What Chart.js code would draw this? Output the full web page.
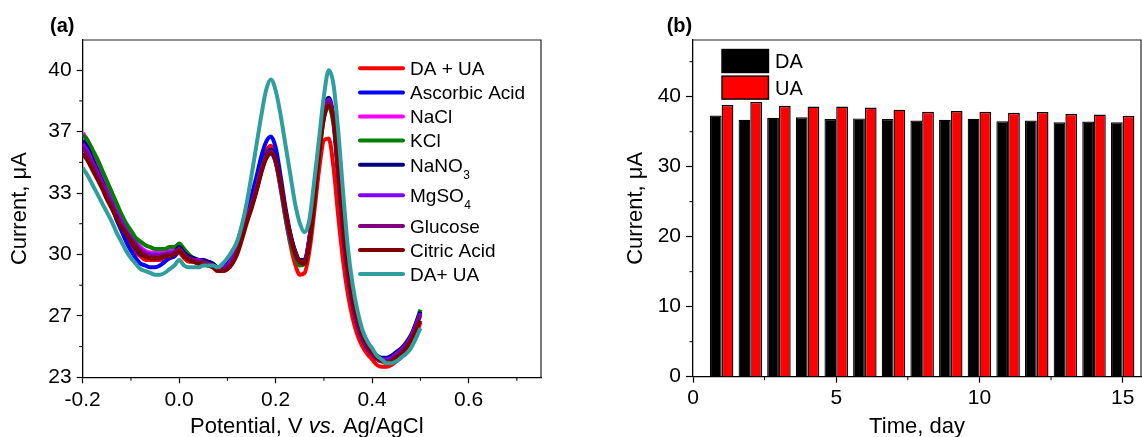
<!DOCTYPE html>
<html>
<head>
<meta charset="utf-8">
<script src="https://cdn.jsdelivr.net/npm/chart.js@4.4.0/dist/chart.umd.min.js"></script>
<style>
html, body { margin: 0; padding: 0; background: #fff; overflow: hidden; }
canvas { position: absolute; top: 0; }
#chartA { left: 0; }
#chartB { left: 575px; }
</style>
</head>
<body>
<canvas id="chartA" width="575" height="437"></canvas>
<canvas id="chartB" width="567" height="437"></canvas>
<script>
// ---- panel (a): DPV curves, current (µA) vs potential (V)
const potentials = [
  -0.20, -0.19, -0.18, -0.17, -0.16, -0.15, -0.14, -0.13, -0.12, -0.11,
  -0.10, -0.09, -0.08, -0.07, -0.06, -0.05, -0.04, -0.03, -0.02, -0.01,
  0.00, 0.01, 0.02, 0.03, 0.04, 0.05, 0.06, 0.07, 0.08, 0.09,
  0.10, 0.11, 0.12, 0.13, 0.14, 0.15, 0.16, 0.17, 0.18, 0.19,
  0.20, 0.21, 0.22, 0.23, 0.24, 0.25, 0.26, 0.27, 0.28, 0.29,
  0.30, 0.31, 0.32, 0.33, 0.34, 0.35, 0.36, 0.37, 0.38, 0.39,
  0.40, 0.41, 0.42, 0.43, 0.44, 0.45, 0.46, 0.47, 0.48, 0.49,
  0.50
];
const daUa = [
  36.1, 35.6, 35.0, 34.4, 33.8, 33.2, 32.6, 32.0, 31.4, 30.9,
  30.5, 30.1, 29.9, 29.7, 29.7, 29.7, 29.7, 29.8, 29.8, 29.9,
  30.1, 29.8, 29.6, 29.6, 29.5, 29.5, 29.4, 29.3, 29.1, 29.1,
  29.2, 29.5, 30.1, 31.0, 31.9, 32.8, 33.8, 34.8, 35.6, 35.9,
  35.3, 33.8, 32.1, 30.6, 29.5, 28.9, 29.0, 30.2, 32.3, 34.6,
  36.2, 36.3, 34.7, 32.0, 29.6, 27.8, 26.5, 25.6, 25.0, 24.6,
  24.3, 24.0, 23.9, 23.9, 24.0, 24.2, 24.4, 24.7, 25.1, 25.6,
  26.3
];
const ascorbic = [
  36.2, 35.8, 35.2, 34.6, 34.0, 33.3, 32.6, 31.9, 31.3, 30.7,
  30.2, 29.8, 29.5, 29.4, 29.3, 29.3, 29.4, 29.6, 29.8, 29.9,
  30.2, 29.9, 29.8, 29.7, 29.7, 29.6, 29.6, 29.5, 29.3, 29.3,
  29.5, 29.9, 30.6, 31.5, 32.4, 33.2, 34.2, 35.3, 36.1, 36.4,
  35.8, 34.3, 32.6, 31.2, 30.2, 29.7, 29.7, 30.9, 33.2, 35.8,
  37.8, 38.4, 37.2, 34.2, 31.1, 28.8, 27.2, 26.1, 25.4, 24.9,
  24.6, 24.4, 24.3, 24.3, 24.4, 24.6, 24.8, 25.1, 25.5, 26.1,
  26.8
];
const naCl = [
  36.6, 36.2, 35.6, 35.0, 34.4, 33.8, 33.2, 32.6, 32.0, 31.5,
  31.0, 30.7, 30.4, 30.2, 30.1, 30.1, 30.1, 30.1, 30.2, 30.2,
  30.4, 30.1, 29.9, 29.8, 29.7, 29.6, 29.5, 29.4, 29.3, 29.3,
  29.4, 29.7, 30.3, 31.1, 31.9, 32.6, 33.5, 34.5, 35.3, 35.6,
  35.1, 33.8, 32.3, 31.0, 30.1, 29.7, 29.7, 30.9, 33.0, 35.6,
  37.6, 38.3, 37.3, 34.4, 31.3, 29.0, 27.4, 26.3, 25.6, 25.1,
  24.7, 24.4, 24.3, 24.2, 24.3, 24.5, 24.7, 25.0, 25.4, 26.1,
  26.9
];
const kCl = [
  36.5, 36.2, 35.7, 35.2, 34.6, 34.0, 33.4, 32.8, 32.2, 31.7,
  31.3, 30.9, 30.7, 30.5, 30.4, 30.3, 30.3, 30.3, 30.4, 30.4,
  30.6, 30.3, 30.0, 29.8, 29.7, 29.6, 29.5, 29.4, 29.3, 29.3,
  29.4, 29.7, 30.3, 31.1, 32.0, 32.7, 33.5, 34.5, 35.2, 35.5,
  35.0, 33.6, 32.0, 30.7, 29.9, 29.4, 29.5, 30.6, 32.8, 35.4,
  37.4, 38.0, 37.0, 34.2, 31.2, 28.9, 27.3, 26.2, 25.5, 25.0,
  24.6, 24.4, 24.3, 24.3, 24.4, 24.6, 24.8, 25.1, 25.5, 26.2,
  27.0
];
const naNO3 = [
  36.2, 35.8, 35.2, 34.6, 34.0, 33.4, 32.8, 32.2, 31.6, 31.1,
  30.7, 30.3, 30.0, 29.9, 29.8, 29.8, 29.8, 29.9, 30.0, 30.1,
  30.4, 30.1, 29.9, 29.8, 29.7, 29.7, 29.6, 29.5, 29.3, 29.3,
  29.5, 29.9, 30.5, 31.3, 32.1, 32.8, 33.7, 34.7, 35.4, 35.7,
  35.2, 33.9, 32.4, 31.1, 30.2, 29.7, 29.7, 30.9, 33.2, 35.9,
  37.9, 38.5, 37.4, 34.4, 31.3, 29.0, 27.4, 26.3, 25.6, 25.1,
  24.7, 24.5, 24.4, 24.4, 24.5, 24.7, 24.9, 25.2, 25.6, 26.2,
  26.9
];
const mgSO4 = [
  36.0, 35.6, 35.0, 34.5, 33.9, 33.4, 32.8, 32.3, 31.8, 31.3,
  30.9, 30.6, 30.3, 30.1, 30.0, 30.0, 30.0, 30.0, 30.1, 30.1,
  30.3, 30.0, 29.8, 29.7, 29.7, 29.6, 29.5, 29.4, 29.3, 29.3,
  29.4, 29.8, 30.4, 31.2, 32.0, 32.7, 33.6, 34.6, 35.3, 35.5,
  35.0, 33.7, 32.2, 30.9, 30.1, 29.6, 29.6, 30.8, 33.1, 35.7,
  37.7, 38.4, 37.3, 34.3, 31.2, 28.9, 27.3, 26.2, 25.5, 25.0,
  24.6, 24.4, 24.3, 24.3, 24.4, 24.6, 24.8, 25.1, 25.5, 26.1,
  26.8
];
const glucose = [
  35.8, 35.4, 34.9, 34.3, 33.8, 33.2, 32.7, 32.1, 31.6, 31.2,
  30.8, 30.5, 30.2, 30.0, 29.9, 29.9, 29.9, 30.0, 30.0, 30.1,
  30.3, 30.0, 29.8, 29.7, 29.6, 29.6, 29.5, 29.4, 29.2, 29.2,
  29.3, 29.6, 30.2, 31.0, 31.9, 32.6, 33.5, 34.5, 35.3, 35.6,
  35.1, 33.8, 32.3, 31.0, 30.1, 29.6, 29.6, 30.8, 33.0, 35.6,
  37.6, 38.3, 37.3, 34.3, 31.2, 28.9, 27.3, 26.2, 25.5, 25.0,
  24.6, 24.3, 24.2, 24.2, 24.3, 24.5, 24.7, 25.0, 25.4, 26.0,
  26.7
];
const citric = [
  35.5, 35.1, 34.6, 34.1, 33.6, 33.0, 32.5, 32.0, 31.5, 31.1,
  30.7, 30.4, 30.1, 29.9, 29.8, 29.8, 29.8, 29.9, 29.9, 30.0,
  30.2, 29.9, 29.7, 29.6, 29.5, 29.5, 29.4, 29.3, 29.1, 29.1,
  29.2, 29.5, 30.0, 30.8, 31.7, 32.5, 33.4, 34.4, 35.2, 35.5,
  35.1, 33.9, 32.4, 31.1, 30.1, 29.6, 29.5, 30.6, 32.8, 35.4,
  37.4, 38.1, 37.3, 34.5, 31.4, 29.1, 27.5, 26.4, 25.6, 25.1,
  24.7, 24.4, 24.2, 24.1, 24.2, 24.4, 24.6, 24.9, 25.3, 25.8,
  26.4
];
const daUa2 = [
  34.7, 34.3, 33.8, 33.3, 32.8, 32.3, 31.8, 31.2, 30.7, 30.2,
  29.8, 29.5, 29.2, 29.1, 29.0, 28.9, 28.9, 29.0, 29.2, 29.4,
  29.7, 29.4, 29.3, 29.3, 29.3, 29.4, 29.4, 29.4, 29.3, 29.5,
  29.8, 30.2, 30.7, 31.6, 32.8, 34.3, 35.9, 37.5, 38.9, 39.5,
  38.9, 37.6, 36.0, 34.4, 32.8, 31.7, 31.2, 31.9, 34.0, 36.3,
  38.6, 40.0, 39.2, 36.6, 33.3, 30.3, 28.3, 26.9, 25.9, 25.3,
  24.9, 24.5, 24.3, 24.1, 24.1, 24.2, 24.4, 24.6, 24.9, 25.4,
  26.0
];
const seriesA = [daUa, ascorbic, naCl, kCl, naNO3, mgSO4, glucose, citric, daUa2];
const namesA = ['DA + UA', 'Ascorbic Acid', 'NaCl', 'KCl', 'NaNO₃', 'MgSO₄', 'Glucose', 'Citric Acid', 'DA+ UA'];
const colorsA = ['#ff0000', '#0000ff', '#ff00ff', '#008000', '#000080', '#8000ff', '#800080', '#800000', '#2f9e9e'];

const xTicksA = [-0.2, 0, 0.2, 0.4, 0.6];
const xTickLabelsA = ['-0.2', '0.0', '0.2', '0.4', '0.6'];
const xMinorA = [-0.1, 0.1, 0.3, 0.5, 0.7];
const yTicksA = [23.333, 26.667, 30, 33.333, 36.667, 40];
const yTickLabelsA = ['23', '27', '30', '33', '37', '40'];
const yMinorA = [25, 28.333, 31.667, 35, 38.333];

// ---- panel (b): stability over days
const days = [1, 2, 3, 4, 5, 6, 7, 8, 9, 10, 11, 12, 13, 14, 15];
const daCurrent = [37.3, 36.7, 37.0, 37.05, 36.8, 36.9, 36.8, 36.6, 36.7, 36.85, 36.5, 36.6, 36.35, 36.45, 36.35];
const uaCurrent = [38.8, 39.25, 38.7, 38.6, 38.6, 38.45, 38.15, 37.85, 37.95, 37.85, 37.7, 37.8, 37.55, 37.45, 37.25];
const xTicksB = [0, 5, 10, 15];
const xMinorB = [2.5, 7.5, 12.5];
const yTicksB = [0, 10, 20, 30, 40];
const yMinorB = [5, 15, 25, 35, 45];

const FONT = "'Liberation Sans', Arial, sans-serif";
Chart.defaults.font.family = FONT;
Chart.defaults.color = '#000';

// box, minor ticks, panel tag, x title (with italic part)
const frame = {
  id: 'frame',
  afterDraw(chart, args, o) {
    const { ctx, chartArea: a, scales } = chart;
    ctx.save();
    ctx.strokeStyle = '#222';
    ctx.lineWidth = 1.2;
    ctx.beginPath();
    ctx.moveTo(a.left, a.top);
    ctx.lineTo(a.right, a.top);
    ctx.lineTo(a.right, a.bottom);
    ctx.stroke();
    ctx.strokeStyle = '#000';
    ctx.lineWidth = 1;
    o.xMinor.forEach(v => {
      const px = scales.x.getPixelForValue(v);
      ctx.beginPath(); ctx.moveTo(px, a.bottom); ctx.lineTo(px, a.bottom + 3.5); ctx.stroke();
    });
    o.yMinor.forEach(v => {
      const py = scales.y.getPixelForValue(v);
      ctx.beginPath(); ctx.moveTo(a.left, py); ctx.lineTo(a.left - 3.5, py); ctx.stroke();
    });
    ctx.fillStyle = '#000';
    ctx.textBaseline = 'alphabetic';
    ctx.textAlign = 'left';
    ctx.font = `bold 20px ${FONT}`;
    ctx.fillText(o.tag, o.tagX, 32);
    // x title, parts may be italic
    let w = 0;
    o.xTitle.forEach(p => { ctx.font = `${p[1] ? 'italic ' : ''}22px ${FONT}`; w += ctx.measureText(p[0]).width; });
    let x = (a.left + a.right) / 2 + o.xTitleShift - w / 2;
    o.xTitle.forEach(p => {
      ctx.font = `${p[1] ? 'italic ' : ''}22px ${FONT}`;
      ctx.fillText(p[0], x, 433);
      x += ctx.measureText(p[0]).width;
    });
    ctx.restore();
  }
};

const legendA = {
  id: 'legendA',
  afterDraw(chart) {
    const ctx = chart.ctx;
    ctx.save();
    let y = 68.3;
    chart.data.datasets.forEach(ds => {
      ctx.strokeStyle = ds.borderColor;
      ctx.lineWidth = 4;
      ctx.lineCap = 'round';
      ctx.beginPath(); ctx.moveTo(360, y); ctx.lineTo(403, y); ctx.stroke();
      const m = ds.label.match(/^(.*?)([₀-₉]?)$/);
      ctx.fillStyle = '#000';
      ctx.textAlign = 'left';
      ctx.textBaseline = 'alphabetic';
      ctx.font = `19px ${FONT}`;
      ctx.fillText(m[1], 410, y + 6.8);
      if (m[2]) {
        const w = ctx.measureText(m[1]).width;
        ctx.font = `12px ${FONT}`;
        ctx.fillText(String(m[2].charCodeAt(0) - 0x2080), 410 + w + 0.5, y + 14);
        y += 6.5;
      }
      y += 24.1;
    });
    ctx.restore();
  }
};

const legendB = {
  id: 'legendB',
  afterDraw(chart) {
    const { ctx, chartArea: a } = chart;
    ctx.save();
    chart.data.datasets.forEach((ds, i) => {
      const top = a.top + 9.5 + i * 26.6;
      ctx.fillStyle = ds.backgroundColor;
      ctx.fillRect(a.left + 29, top, 46.5, 23);
      ctx.strokeStyle = '#000';
      ctx.lineWidth = 1.4;
      ctx.strokeRect(a.left + 29, top, 46.5, 23);
      ctx.fillStyle = '#000';
      ctx.font = `20px ${FONT}`;
      ctx.textBaseline = 'alphabetic';
      ctx.fillText(ds.label, a.left + 82, top + 18.8);
    });
    ctx.restore();
  }
};

new Chart(document.getElementById('chartA'), {
  type: 'line',
  data: {
    datasets: seriesA.map((vals, i) => ({
      label: namesA[i],
      data: vals.map((v, j) => ({ x: potentials[j], y: v })),
      borderColor: colorsA[i],
      backgroundColor: colorsA[i],
      borderWidth: 4,
      pointRadius: 0,
      cubicInterpolationMode: 'monotone',
      order: seriesA.length - i
    }))
  },
  options: {
    responsive: false,
    animation: false,
    layout: { padding: { top: 40, right: 34, left: 0, bottom: 0 } },
    plugins: {
      legend: { display: false },
      tooltip: { enabled: false },
      frame: {
        xMinor: xMinorA, yMinor: yMinorA, tag: '(a)', tagX: 50, xTitleShift: -5,
        xTitle: [['Potential, V ', false], ['vs.', true], [' Ag/AgCl', false]]
      }
    },
    scales: {
      x: {
        type: 'linear', min: -0.2, max: 0.75,
        afterBuildTicks: s => { s.ticks = xTicksA.map(v => ({ value: v })); },
        afterFit: s => { s.height = 59.7; },
        ticks: { font: { size: 21 }, padding: 4, maxRotation: 0, autoSkip: false, callback: (v, i) => xTickLabelsA[i] },
        grid: { drawOnChartArea: false, drawTicks: true, tickLength: 6, tickColor: '#000', tickWidth: 1.2 },
        border: { display: true, color: '#000', width: 1.3 }
      },
      y: {
        min: 23.333, max: 41.64,
        afterBuildTicks: s => { s.ticks = yTicksA.map(v => ({ value: v })); },
        afterFit: s => { s.width = 82.7; },
        ticks: { font: { size: 21 }, padding: 5, autoSkip: false, callback: (v, i) => yTickLabelsA[i] },
        grid: { drawOnChartArea: false, drawTicks: true, tickLength: 6, tickColor: '#000', tickWidth: 1.2 },
        border: { display: true, color: '#000', width: 1.3 },
        title: { display: true, text: 'Current, μA', font: { size: 22 }, padding: { top: 6.3, bottom: 0 } }
      }
    }
  },
  plugins: [frame, legendA]
});

new Chart(document.getElementById('chartB'), {
  type: 'bar',
  data: {
    datasets: [
      { label: 'DA', data: days.map((d, i) => ({ x: d, y: daCurrent[i] })), backgroundColor: '#000000', borderColor: '#000', borderWidth: 1.2 },
      { label: 'UA', data: days.map((d, i) => ({ x: d, y: uaCurrent[i] })), backgroundColor: '#ff0000', borderColor: '#000', borderWidth: 1.4 }
    ]
  },
  options: {
    responsive: false,
    animation: false,
    layout: { padding: { top: 40, right: 1, left: 0, bottom: 0 } },
    datasets: { bar: { categoryPercentage: 0.82, barPercentage: 1.0 } },
    plugins: {
      legend: { display: false },
      tooltip: { enabled: false },
      frame: {
        xMinor: xMinorB, yMinor: yMinorB, tag: '(b)', tagX: 91.7, xTitleShift: 0,
        xTitle: [['Time, day', false]]
      }
    },
    scales: {
      x: {
        type: 'linear', min: 0, max: 15.64, offset: false,
        afterBuildTicks: s => { s.ticks = xTicksB.map(v => ({ value: v })); },
        afterFit: s => { s.height = 60.3; },
        ticks: { font: { size: 21 }, padding: 3, maxRotation: 0, autoSkip: false },
        grid: { offset: false, drawOnChartArea: false, drawTicks: true, tickLength: 6, tickColor: '#000', tickWidth: 1.2 },
        border: { display: true, color: '#000', width: 1.3 }
      },
      y: {
        min: 0, max: 48.1,
        afterBuildTicks: s => { s.ticks = yTicksB.map(v => ({ value: v })); },
        afterFit: s => { s.width = 118; },
        ticks: { font: { size: 21 }, padding: 5, autoSkip: false },
        grid: { drawOnChartArea: false, drawTicks: true, tickLength: 7, tickColor: '#000', tickWidth: 1.2 },
        border: { display: true, color: '#000', width: 1.3 },
        title: { display: true, text: 'Current, μA', font: { size: 22 }, padding: { top: 47.8, bottom: 0 } }
      }
    }
  },
  plugins: [frame, legendB]
});
</script>
</body>
</html>
